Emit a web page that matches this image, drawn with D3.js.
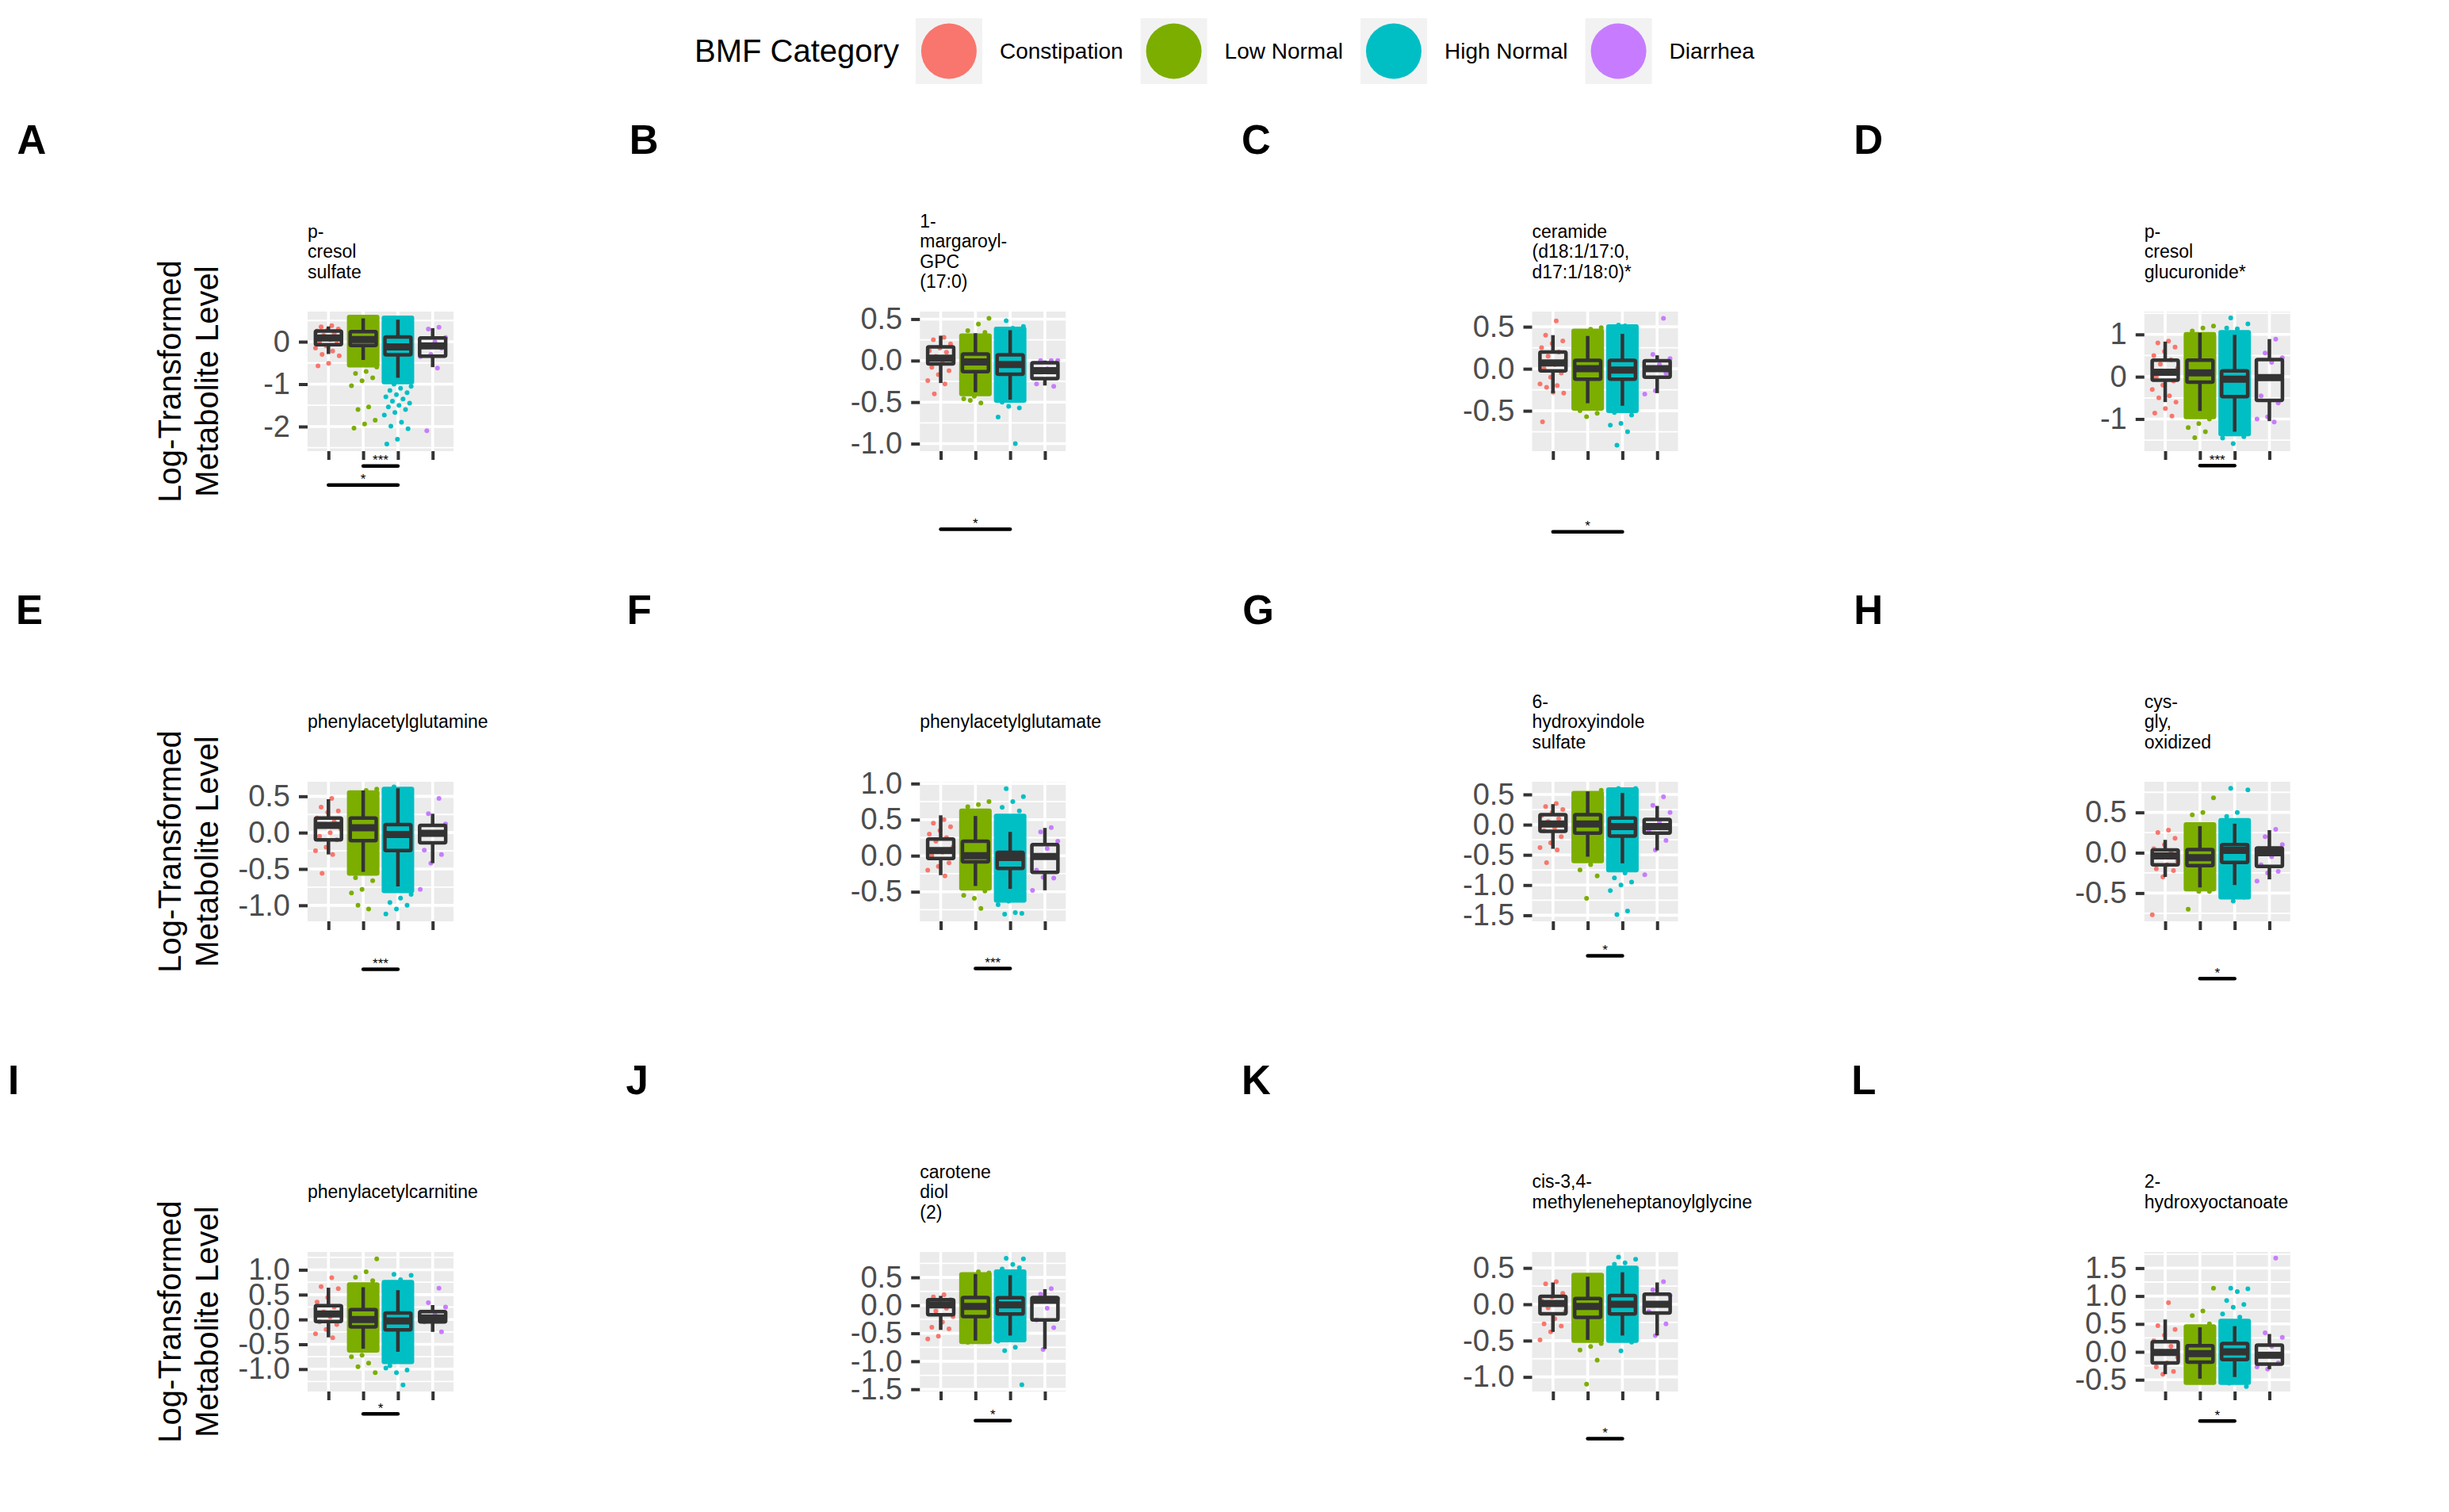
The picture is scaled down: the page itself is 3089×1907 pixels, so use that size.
<!DOCTYPE html>
<html>
<head>
<meta charset="utf-8">
<script src="https://cdn.jsdelivr.net/npm/d3@7"></script>
<style>
  html, body { margin: 0; padding: 0; background: #ffffff; }
  svg { display: block; font-family: "Liberation Sans", Arial, Helvetica, sans-serif; }
</style>
</head>
<body>
<svg id="chart" width="3089" height="1907"></svg>
<script>
// ---------------- DATA ----------------
const categories = ["Constipation", "Low Normal", "High Normal", "Diarrhea"];
const categoryColors = ["#F8766D", "#7CAE00", "#00BFC4", "#C77CFF"];
const legendTitle = "BMF Category";
const yAxisTitle = ["Log-Transformed", "Metabolite Level"];

const panelLetters = ["A", "B", "C", "D", "E", "F", "G", "H", "I", "J", "K", "L"];
const panelTitles = [
  ["p-", "cresol", "sulfate"],
  ["1-", "margaroyl-", "GPC", "(17:0)"],
  ["ceramide", "(d18:1/17:0,", "d17:1/18:0)*"],
  ["p-", "cresol", "glucuronide*"],
  ["phenylacetylglutamine"],
  ["phenylacetylglutamate"],
  ["6-", "hydroxyindole", "sulfate"],
  ["cys-", "gly,", "oxidized"],
  ["phenylacetylcarnitine"],
  ["carotene", "diol", "(2)"],
  ["cis-3,4-", "methyleneheptanoylglycine"],
  ["2-", "hydroxyoctanoate"]
];

// visible y range of each panel [min, max]
const yDomains = [
  [-2.58, 0.71], [-1.09, 0.59], [-0.98, 0.68], [-1.76, 1.54],
  [-1.22, 0.70], [-0.91, 1.025], [-1.60, 0.71], [-0.85, 0.88],
  [-1.45, 1.36], [-1.54, 0.955], [-1.20, 0.72], [-0.71, 1.79]
];

const yTicks = [
  [0, -1, -2], [0.5, 0, -0.5, -1], [0.5, 0, -0.5], [1, 0, -1],
  [0.5, 0, -0.5, -1], [1, 0.5, 0, -0.5], [0.5, 0, -0.5, -1, -1.5], [0.5, 0, -0.5],
  [1, 0.5, 0, -0.5, -1], [0.5, 0, -0.5, -1, -1.5], [0.5, 0, -0.5, -1], [1.5, 1, 0.5, 0, -0.5]
];
const yTickLabels = [
  ["0", "-1", "-2"], ["0.5", "0.0", "-0.5", "-1.0"], ["0.5", "0.0", "-0.5"], ["1", "0", "-1"],
  ["0.5", "0.0", "-0.5", "-1.0"], ["1.0", "0.5", "0.0", "-0.5"], ["0.5", "0.0", "-0.5", "-1.0", "-1.5"], ["0.5", "0.0", "-0.5"],
  ["1.0", "0.5", "0.0", "-0.5", "-1.0"], ["0.5", "0.0", "-0.5", "-1.0", "-1.5"], ["0.5", "0.0", "-0.5", "-1.0"], ["1.5", "1.0", "0.5", "0.0", "-0.5"]
];

// box statistics per panel, per category: [lower whisker, Q1, median, Q3, upper whisker]
const boxStats = [
  [[-0.29, -0.07, 0.09, 0.25, 0.36], [-0.43, -0.09, 0.05, 0.24, 0.55], [-0.85, -0.31, -0.12, 0.11, 0.52], [-0.60, -0.34, -0.10, 0.09, 0.32]],
  [[-0.27, -0.04, 0.03, 0.165, 0.30], [-0.38, -0.134, -0.016, 0.08, 0.33], [-0.47, -0.165, -0.048, 0.07, 0.366], [-0.30, -0.217, -0.12, -0.025, 0.0]],
  [[-0.29, -0.025, 0.07, 0.20, 0.40], [-0.41, -0.125, 0.0, 0.10, 0.39], [-0.44, -0.125, -0.015, 0.10, 0.415], [-0.29, -0.10, 0.0, 0.095, 0.16]],
  [[-0.60, -0.08, 0.105, 0.39, 0.83], [-0.81, -0.13, 0.09, 0.39, 1.04], [-1.30, -0.47, -0.06, 0.14, 0.99], [-1.05, -0.56, -0.02, 0.405, 0.89]],
  [[-0.30, -0.10, 0.10, 0.20, 0.46], [-0.54, -0.11, 0.066, 0.20, 0.58], [-0.74, -0.245, -0.026, 0.11, 0.61], [-0.42, -0.14, -0.01, 0.10, 0.26]],
  [[-0.27, -0.04, 0.07, 0.23, 0.56], [-0.42, -0.085, 0.0, 0.20, 0.55], [-0.46, -0.176, -0.026, 0.047, 0.33], [-0.48, -0.23, -0.01, 0.154, 0.385]],
  [[-0.40, -0.11, 0.01, 0.165, 0.34], [-0.53, -0.14, 0.01, 0.165, 0.55], [-0.64, -0.19, -0.03, 0.11, 0.525], [-0.425, -0.14, -0.03, 0.087, 0.31]],
  [[-0.30, -0.15, -0.04, 0.035, 0.16], [-0.43, -0.16, -0.06, 0.04, 0.33], [-0.40, -0.12, 0.03, 0.10, 0.36], [-0.33, -0.17, 0.0, 0.06, 0.28]],
  [[-0.36, -0.04, 0.11, 0.28, 0.64], [-0.59, -0.15, 0.0, 0.20, 0.65], [-0.65, -0.21, -0.03, 0.13, 0.59], [-0.25, -0.05, 0.03, 0.16, 0.29]],
  [[-0.44, -0.17, 0.01, 0.10, 0.17], [-0.63, -0.20, -0.02, 0.14, 0.56], [-0.54, -0.156, 0.01, 0.137, 0.54], [-0.78, -0.26, 0.09, 0.14, 0.29]],
  [[-0.38, -0.13, 0.01, 0.11, 0.30], [-0.49, -0.18, -0.03, 0.08, 0.38], [-0.43, -0.134, 0.0, 0.12, 0.44], [-0.43, -0.12, 0.0, 0.14, 0.30]],
  [[-0.40, -0.20, -0.01, 0.18, 0.58], [-0.48, -0.185, -0.03, 0.11, 0.44], [-0.45, -0.14, 0.0, 0.15, 0.46], [-0.31, -0.22, -0.06, 0.12, 0.32]]
];

// y extent of the densely packed jittered point clouds [low, high] (null = sparse group)
const denseRanges = [
  [null, [-0.55, 0.58], [-0.95, 0.56], null],
  [null, [-0.40, 0.30], [-0.48, 0.38], null],
  [null, [-0.47, 0.45], [-0.50, 0.50], null],
  [null, [-0.95, 1.00], [-1.35, 1.05], null],
  [null, [-0.56, 0.55], [-0.80, 0.60], null],
  [null, [-0.45, 0.62], [-0.62, 0.55], null],
  [null, [-0.60, 0.52], [-0.75, 0.58], null],
  [null, [-0.45, 0.35], [-0.55, 0.40], null],
  [null, [-0.62, 0.70], [-0.85, 0.75], null],
  [null, [-0.65, 0.55], [-0.62, 0.60], null],
  [null, [-0.50, 0.40], [-0.50, 0.50], null],
  [null, [-0.55, 0.45], [-0.55, 0.55], null]
];

// individually visible points per panel, per category (y values)
const pointValues = [
  [[0.38, 0.35, 0.30, 0.28, 0.25, 0.20, 0.15, 0.10, 0.05, 0.0, -0.05, -0.10, -0.15, -0.22, -0.30, -0.33, -0.51, -0.57],
   [-0.60, -0.70, -0.75, -0.85, -0.92, -1.04, -1.54, -1.60, -1.85, -1.94, -2.04],
   [-1.00, -1.05, -1.10, -1.15, -1.20, -1.25, -1.30, -1.35, -1.40, -1.45, -1.50, -1.54, -1.60, -1.67, -1.73, -1.90, -1.99, -2.05, -2.30, -2.41],
   [0.34, 0.30, 0.10, 0.0, -0.10, -0.15, -0.30, -0.35, -0.62, -2.10]],
  [[0.28, 0.25, 0.20, 0.15, 0.12, 0.10, 0.05, 0.0, -0.03, -0.08, -0.12, -0.17, -0.24, -0.28, -0.40],
   [0.51, 0.44, 0.36, 0.34, -0.43, -0.46, -0.51, -0.48],
   [0.48, 0.41, 0.39, -0.50, -0.57, -0.55, -0.68, -1.00],
   [0.0, 0.0, 0.0, -0.10, -0.28, -0.31]],
  [[0.57, 0.40, 0.33, 0.30, 0.25, 0.20, 0.15, 0.10, 0.05, 0.0, -0.05, -0.10, -0.18, -0.20, -0.22, -0.29, -0.28, -0.63],
   [0.49, 0.47, -0.50, -0.53, -0.57],
   [0.52, 0.50, 0.51, -0.52, -0.55, -0.65, -0.67, -0.75, -0.91],
   [0.60, 0.17, 0.12, 0.05, 0.0, -0.05, -0.26, -0.30]],
  [[0.84, 0.80, 0.70, 0.60, 0.50, 0.40, 0.30, 0.20, 0.10, 0.0, -0.10, -0.20, -0.30, -0.45, -0.50, -0.60, -0.75, -0.86, -0.93],
   [1.20, 1.15, 1.08, -1.00, -1.11, -1.20, -1.30, -1.44],
   [1.39, 1.25, 1.13, 1.15, -1.42, -1.58, -1.45],
   [0.89, 0.56, 0.45, 0.34, -0.45, -0.62, -0.95, -1.00, -1.07]],
  [[0.47, 0.35, 0.30, 0.28, 0.20, 0.15, 0.10, 0.05, 0.0, -0.05, -0.10, -0.20, -0.25, -0.30, -0.56],
   [0.60, 0.58, -0.62, -0.66, -0.78, -0.83, -1.05, -1.00],
   [0.63, -0.85, -0.90, -0.96, -1.00, -1.05, -1.12],
   [0.47, 0.26, 0.12, -0.02, -0.24, -0.30, -0.42, -0.78]],
  [[0.50, 0.45, 0.40, 0.35, 0.30, 0.25, 0.20, 0.12, 0.05, 0.0, -0.10, -0.15, -0.20, -0.28],
   [0.75, 0.71, 0.68, -0.49, -0.59, -0.55, -0.73],
   [0.93, 0.82, 0.75, 0.67, 0.62, -0.63, -0.68, -0.79, -0.81, -0.80],
   [0.39, 0.33, 0.20, 0.10, -0.20, -0.31, -0.30, -0.48]],
  [[0.35, 0.30, 0.25, 0.20, 0.15, 0.10, 0.05, 0.0, -0.05, -0.10, -0.20, -0.30, -0.38, -0.42, -0.63],
   [0.57, -0.66, -0.75, -0.85, -1.22],
   [0.60, 0.60, -0.80, -0.88, -0.95, -1.00, -1.09, -1.43, -1.49],
   [0.46, 0.32, 0.20, 0.05, -0.10, -0.26, -0.42, -0.83]],
  [[0.28, 0.25, 0.18, 0.10, 0.05, 0.0, -0.05, -0.10, -0.15, -0.20, -0.22, -0.30, -0.77],
   [0.68, 0.50, 0.47, -0.48, -0.48, -0.70],
   [0.80, 0.78, 0.50, 0.45, -0.55, -0.60],
   [0.29, 0.20, 0.10, -0.05, -0.15, -0.23, -0.25, -0.35]],
  [[0.84, 0.66, 0.62, 0.44, 0.35, 0.25, 0.15, 0.10, 0.05, -0.05, -0.10, -0.20, -0.29, -0.37],
   [1.22, 0.96, 0.85, 0.78, -0.72, -0.75, -0.88, -0.95, -1.07],
   [0.91, 0.89, 0.80, -0.93, -1.02, -1.07, -0.98, -1.32],
   [0.63, 0.34, 0.25, 0.10, -0.05, -0.25]],
  [[0.19, 0.15, 0.10, 0.05, 0.0, -0.05, -0.10, -0.20, -0.30, -0.39, -0.42, -0.55, -0.60],
   [0.58, 0.60, -0.66],
   [0.84, 0.83, 0.73, 0.65, 0.67, 0.58, -0.64, -0.75, -0.81, -1.42],
   [0.30, 0.20, 0.12, -0.05, -0.26, -0.40, -0.79]],
  [[0.31, 0.28, 0.15, 0.10, 0.05, 0.0, -0.05, -0.10, -0.20, -0.27, -0.30, -0.38, -0.49],
   [-0.54, -0.58, -0.63, -0.77, -1.10],
   [0.65, 0.62, 0.57, 0.55, -0.52, -0.64],
   [0.31, 0.20, 0.12, 0.0, -0.10, -0.27, -0.43]],
  [[0.88, 0.47, 0.40, 0.30, 0.20, 0.10, 0.0, -0.10, -0.20, -0.27, -0.35, -0.40],
   [1.14, 0.73, 0.65, 0.50],
   [1.14, 1.13, 1.08, 0.92, 0.85, 0.80, 0.68, 0.62, -0.56, -0.62],
   [1.68, 0.34, 0.26, 0.10, -0.05, -0.20, -0.31, -0.27]]
];

// significance brackets: category indices compared, bracket y value, label
const signifBrackets = [
  [{ from: 1, to: 2, y: -2.93, label: "***" }, { from: 0, to: 2, y: -3.38, label: "*" }],
  [{ from: 0, to: 2, y: -2.03, label: "*" }],
  [{ from: 0, to: 2, y: -1.94, label: "*" }],
  [{ from: 1, to: 2, y: -2.10, label: "***" }],
  [{ from: 1, to: 2, y: -1.88, label: "***" }],
  [{ from: 1, to: 2, y: -1.565, label: "***" }],
  [{ from: 1, to: 2, y: -2.17, label: "*" }],
  [{ from: 1, to: 2, y: -1.56, label: "*" }],
  [{ from: 1, to: 2, y: -1.90, label: "*" }],
  [{ from: 1, to: 2, y: -2.06, label: "*" }],
  [{ from: 1, to: 2, y: -1.85, label: "*" }],
  [{ from: 1, to: 2, y: -1.24, label: "*" }]
];

// ---------------- LAYOUT ----------------
const W = 3089, H = 1907;
const legendH = 128, rowH = 593, colW = W / 4;
const plotOffX = 388, plotOffY = 265, plotW = 184, plotH = 176;
const lineW = 4.5;
const svg = d3.select("#chart");

// ---------------- LEGEND ----------------
const legend = svg.append("g");
const keyW = 84, keyH = 83, keyTop = 23;
const titleText = legend.append("text").text(legendTitle)
  .attr("font-size", 40).attr("fill", "#000").attr("y", 78);
const titleW = titleText.node().getComputedTextLength();
const labelNodes = categories.map(c => legend.append("text").text(c)
  .attr("font-size", 28).attr("fill", "#000").attr("y", 74));
const labelWs = labelNodes.map(n => n.node().getComputedTextLength());
const total = titleW + 21 + categories.length * (keyW + 22) + d3.sum(labelWs) + (categories.length - 1) * 22;
let lx = W / 2 - total / 2;
titleText.attr("x", lx);
lx += titleW + 21;
categories.forEach((c, i) => {
  legend.append("rect").attr("x", lx).attr("y", keyTop).attr("width", keyW).attr("height", keyH).attr("fill", "#F2F2F2");
  legend.append("circle").attr("cx", lx + keyW / 2).attr("cy", keyTop + keyH / 2).attr("r", 35).attr("fill", categoryColors[i]);
  lx += keyW + 22;
  labelNodes[i].attr("x", lx);
  lx += labelWs[i] + 22;
});

// ---------------- PANELS ----------------
const golden = 0.6180339887;
panelLetters.forEach((letter, p) => {
  const col = p % 4, row = Math.floor(p / 4);
  const cellX = col * colW, rowTop = legendH + row * rowH;
  const x0 = cellX + plotOffX, y0 = rowTop + plotOffY;
  const g = svg.append("g");

  const xs = d3.scaleLinear().domain([0.4, 4.6]).range([x0, x0 + plotW]);
  const band = xs(2) - xs(1);
  const ys = d3.scaleLinear().domain(yDomains[p]).range([y0 + plotH, y0]);

  // panel letter
  const lt = g.append("text").text(letter).attr("font-size", 51).attr("font-weight", "bold")
    .attr("fill", "#000").attr("y", 194 + row * rowH);
  const ltw = lt.node().getComputedTextLength();
  lt.attr("x", cellX + 0.5 * ltw + 3);

  // y axis title (first column)
  if (col === 0) {
    const yt = g.append("g").attr("transform", `translate(228,${y0 + plotH / 2}) rotate(-90)`);
    yAxisTitle.forEach((t, k) => {
      yt.append("text").text(t).attr("x", 0).attr("y", k * 47)
        .attr("text-anchor", "middle").attr("font-size", 40).attr("fill", "#000");
    });
  }

  // panel title
  const lines = panelTitles[p];
  const tc = rowTop + 190;
  lines.forEach((t, k) => {
    g.append("text").text(t).attr("x", x0)
      .attr("y", tc + (k - (lines.length - 1) / 2) * 25.5 + 7)
      .attr("font-size", 23).attr("fill", "#000");
  });

  // background + grid
  g.append("rect").attr("x", x0).attr("y", y0).attr("width", plotW).attr("height", plotH).attr("fill", "#EBEBEB");
  const ticks = yTicks[p];
  const step = Math.abs(ticks[0] - ticks[1]);
  const dom = yDomains[p];
  const minors = [];
  for (let v = d3.min(ticks) - step / 2; v <= d3.max(ticks) + step / 2 + 1e-9; v += step) {
    if (v >= dom[0] && v <= dom[1]) minors.push(v);
  }
  g.selectAll(null).data(minors).join("line")
    .attr("x1", x0).attr("x2", x0 + plotW).attr("y1", d => ys(d)).attr("y2", d => ys(d))
    .attr("stroke", "#fff").attr("stroke-width", 1.8);
  g.selectAll(null).data(ticks).join("line")
    .attr("x1", x0).attr("x2", x0 + plotW).attr("y1", d => ys(d)).attr("y2", d => ys(d))
    .attr("stroke", "#fff").attr("stroke-width", 3.6);
  g.selectAll(null).data([1, 2, 3, 4]).join("line")
    .attr("x1", d => xs(d)).attr("x2", d => xs(d)).attr("y1", y0).attr("y2", y0 + plotH)
    .attr("stroke", "#fff").attr("stroke-width", 3.6);

  // points
  const jitterHalf = 0.4 * band;
  categories.forEach((c, i) => {
    const cx = xs(i + 1);
    const dr = denseRanges[p][i];
    if (dr) {
      g.append("rect").attr("x", cx - jitterHalf - 3).attr("width", 2 * jitterHalf + 6)
        .attr("y", ys(dr[1]) - 3).attr("height", ys(dr[0]) - ys(dr[1]) + 6)
        .attr("rx", 3).attr("fill", categoryColors[i]);
    }
    g.selectAll(null).data(pointValues[p][i]).join("circle")
      .attr("cx", (d, k) => cx + (((k + 1) * golden + i * 0.37) % 1 - 0.5) * 2 * jitterHalf)
      .attr("cy", d => ys(d)).attr("r", 3).attr("fill", categoryColors[i]);
  });

  // boxplots
  const bw = 0.75 * band;
  boxStats[p].forEach((s, i) => {
    const cx = xs(i + 1);
    const bg = g.append("g").attr("stroke", "#333333").attr("fill", "none");
    bg.append("line").attr("x1", cx).attr("x2", cx).attr("y1", ys(s[4])).attr("y2", ys(s[3])).attr("stroke-width", lineW);
    bg.append("line").attr("x1", cx).attr("x2", cx).attr("y1", ys(s[1])).attr("y2", ys(s[0])).attr("stroke-width", lineW);
    bg.append("rect").attr("x", cx - bw / 2).attr("width", bw).attr("y", ys(s[3])).attr("height", ys(s[1]) - ys(s[3]))
      .attr("stroke-width", lineW).attr("stroke-linejoin", "round").attr("rx", 1.5);
    bg.append("line").attr("x1", cx - bw / 2).attr("x2", cx + bw / 2).attr("y1", ys(s[2])).attr("y2", ys(s[2]))
      .attr("stroke-width", lineW * 2);
  });

  // axes
  const ya = d3.axisLeft(ys).tickValues(ticks).tickFormat((d, k) => yTickLabels[p][k]).tickSize(11).tickPadding(11);
  const yag = g.append("g").attr("transform", `translate(${x0},0)`).call(ya);
  const xa = d3.axisBottom(xs).tickValues([1, 2, 3, 4]).tickFormat("").tickSize(11);
  const xag = g.append("g").attr("transform", `translate(0,${y0 + plotH})`).call(xa);
  [yag, xag].forEach(a => {
    a.attr("font-size", null).attr("font-family", null);
    a.select(".domain").remove();
    a.selectAll(".tick line").attr("stroke", "#333333").attr("stroke-width", 4);
  });
  yag.selectAll(".tick text").attr("font-size", 38).attr("fill", "#4D4D4D");

  // significance brackets
  signifBrackets[p].forEach(b => {
    const yy = ys(b.y);
    g.append("line").attr("x1", xs(b.from + 1)).attr("x2", xs(b.to + 1)).attr("y1", yy).attr("y2", yy)
      .attr("stroke", "#000").attr("stroke-width", lineW).attr("stroke-linecap", "round");
    g.append("text").text(b.label).attr("x", (xs(b.from + 1) + xs(b.to + 1)) / 2).attr("y", yy - 1.5)
      .attr("text-anchor", "middle").attr("font-size", 17).attr("fill", "#000");
  });
});
</script>
</body>
</html>
